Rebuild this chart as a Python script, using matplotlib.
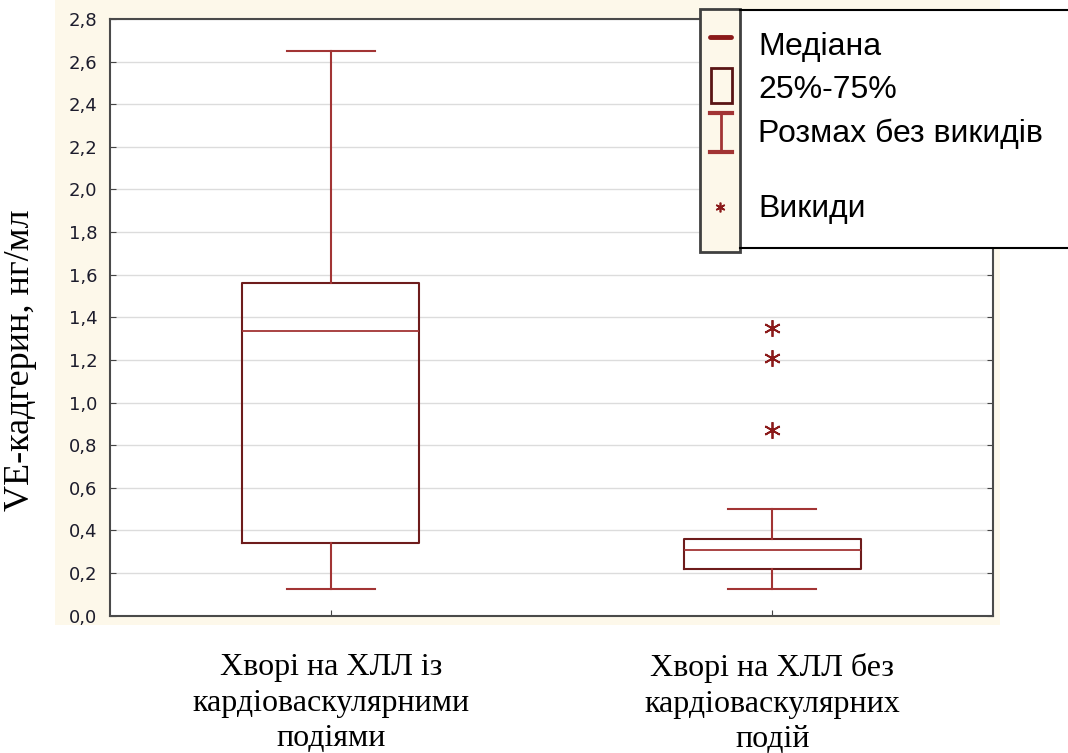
import matplotlib.pyplot as plt
from matplotlib.patches import Rectangle
from matplotlib.lines import Line2D

# values
groups = ["Хворі на ХЛЛ із\nкардіоваскулярними\nподіями",
          "Хворі на ХЛЛ без\nкардіоваскулярних\nподій"]
whislo = [0.125, 0.125]
q1 = [0.34, 0.22]
median = [1.335, 0.31]
q3 = [1.56, 0.36]
whishi = [2.65, 0.50]
outliers = [[], [1.35, 1.21, 0.87]]
yticks = [0.0, 0.2, 0.4, 0.6, 0.8, 1.0, 1.2, 1.4, 1.6, 1.8, 2.0, 2.2, 2.4, 2.6, 2.8]

W, H = 1068, 753
box_col = "#6e1c1c"
line_col = "#a23434"
cream = "#fdf8ea"

fig = plt.figure(figsize=(W / 100, H / 100), dpi=100)

# cream panel behind the plot area
fig.patches.append(Rectangle((55 / W, 1 - 625 / H), 945 / W, 625 / H,
                             transform=fig.transFigure, facecolor=cream,
                             edgecolor="none", zorder=-5))

ax = fig.add_axes([110 / W, 1 - 615.6 / H, 883 / W, 596.6 / H])
ax.set_facecolor("white")

stats = []
for i in range(len(groups)):
    stats.append(dict(whislo=whislo[i], q1=q1[i], med=median[i], q3=q3[i],
                      whishi=whishi[i], fliers=outliers[i], label=groups[i]))

ax.bxp(stats, positions=[1, 2], widths=0.4, showcaps=True, showfliers=True,
       boxprops=dict(color=box_col, linewidth=1.5),
       whiskerprops=dict(color=line_col, linewidth=1.5),
       capprops=dict(color=line_col, linewidth=1.5),
       medianprops=dict(color=line_col, linewidth=1.3),
       flierprops=dict(marker=(6, 2, 0), markersize=12, markeredgecolor="#8b1a1a",
                       markerfacecolor="none", markeredgewidth=1.3, linestyle="none"),
       capwidths=0.2, zorder=3)

ax.set_xlim(0.5, 2.5)
ax.set_ylim(0, 2.8)
ax.set_yticks(yticks)
ax.set_yticklabels([f"{v:.1f}".replace(".", ",") for v in yticks],
                   fontsize=13, color="#1c1c2c", family="DejaVu Sans")
ax.grid(axis="y", color="#dcdcdc", linewidth=1)
ax.set_axisbelow(True)
ax.tick_params(axis="y", direction="in", length=4, color="#444444", right=True, pad=9)
ax.tick_params(axis="x", direction="in", length=4, color="#444444", pad=27)
for lab in ax.get_xticklabels():
    lab.set_family("Liberation Serif")
    lab.set_fontsize(23)
    lab.set_linespacing(1.3)
for s in ax.spines.values():
    s.set_color("#4a4a4a")
    s.set_linewidth(1.5)

ax.set_ylabel("VE-кадгерин, нг/мл", family="Liberation Serif", fontsize=26)
ax.yaxis.set_label_coords(-0.083, 0.428)

# legend drawn on an overlay in pixel coordinates
ov = fig.add_axes([0, 0, 1, 1], zorder=10)
ov.set_xlim(0, W)
ov.set_ylim(H, 0)
ov.axis("off")
ov.add_patch(Rectangle((740, 10), 340, 238, facecolor="white", edgecolor="none"))
ov.add_line(Line2D([740, W], [10, 10], color="black", linewidth=1.5))
ov.add_line(Line2D([740, W], [248, 248], color="black", linewidth=1.5))
ov.add_patch(Rectangle((700, 9), 40, 243, facecolor=cream, edgecolor="#404040", linewidth=2))
ov.add_line(Line2D([710, 731], [37, 37], color="#8b1a1a", linewidth=3.5, solid_capstyle="round"))
ov.add_patch(Rectangle((711, 68), 21, 35, facecolor="none", edgecolor="#5a1515", linewidth=2))
ov.add_line(Line2D([710, 732], [113, 113], color=line_col, linewidth=3))
ov.add_line(Line2D([721, 721], [113, 152], color=line_col, linewidth=2))
ov.add_line(Line2D([710, 732], [152, 152], color=line_col, linewidth=3))
ov.plot([720], [207], marker=(6, 2, 0), markersize=7, markeredgecolor="#8b1a1a",
        markeredgewidth=1.2, linestyle="none")
leg_labels = ["Медіана", "25%-75%", "Розмах без викидів", "Викиди"]
leg_y = [47, 90, 134, 209]
for t, y in zip(leg_labels, leg_y):
    ov.text(758, y, t, fontsize=23, family="Liberation Sans", va="center", ha="left")

fig.savefig("out.png", dpi=100, facecolor="white")
